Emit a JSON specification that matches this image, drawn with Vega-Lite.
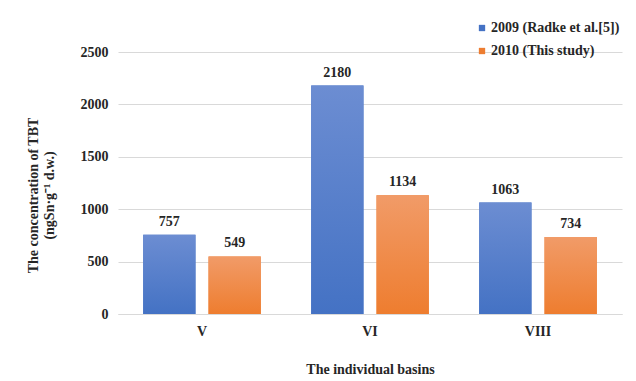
{
  "$schema": "https://vega.github.io/schema/vega-lite/v6.json",
  "width": 504,
  "height": 262,
  "autosize": {"type": "none"},
  "padding": {"left": 118, "top": 52, "right": 14, "bottom": 67},
  "background": "white",
  "config": {"view": {"stroke": null}, "font": "Liberation Serif"},
  "data": {
    "values": [
      {"basin": "V", "series": "2009 (Radke et al.[5])", "year": 2009, "value": 757},
      {"basin": "V", "series": "2010 (This study)", "year": 2010, "value": 549},
      {"basin": "VI", "series": "2009 (Radke et al.[5])", "year": 2009, "value": 2180},
      {"basin": "VI", "series": "2010 (This study)", "year": 2010, "value": 1134},
      {"basin": "VIII", "series": "2009 (Radke et al.[5])", "year": 2009, "value": 1063},
      {"basin": "VIII", "series": "2010 (This study)", "year": 2010, "value": 734}
    ]
  },
  "encoding": {
    "x": {
      "field": "basin", "type": "nominal", "sort": ["V", "VI", "VIII"],
      "scale": {"paddingInner": 0.3, "paddingOuter": 0.15},
      "axis": {
        "title": "The individual basins", "labelAngle": 0, "ticks": false,
        "domainColor": "#d9d9d9", "labelPadding": 10, "labelFontSize": 14,
        "labelFontWeight": "bold", "labelColor": "#262626",
        "titleFontSize": 14, "titleFontWeight": "bold", "titleColor": "#262626",
        "titlePadding": 24
      }
    },
    "xOffset": {"field": "series", "type": "nominal", "scale": {"paddingInner": 0.2}},
    "y": {
      "field": "value", "type": "quantitative",
      "scale": {"domain": [0, 2500]},
      "axis": {
        "title": ["The concentration of TBT", "(ngSn·g⁻¹ d.w.)"],
        "values": [0, 500, 1000, 1500, 2000, 2500], "format": "d",
        "domain": false, "ticks": false, "gridColor": "#d9d9d9",
        "labelPadding": 10, "labelFontSize": 14, "labelFontWeight": "bold",
        "labelColor": "#262626",
        "titleFontSize": 14, "titleFontWeight": "bold", "titleColor": "#262626",
        "titleLineHeight": 16, "titlePadding": 24, "titleY": 143
      }
    }
  },
  "layer": [
    {
      "mark": {"type": "bar"},
      "encoding": {
        "color": {
          "field": "series", "type": "nominal",
          "scale": {"range": ["#4472c4", "#ed7d31"]},
          "legend": {
            "title": null, "orient": "none", "legendX": 357, "legendY": -31,
            "symbolType": "square", "symbolSize": 40, "labelFontSize": 14,
            "labelFontWeight": "bold", "labelColor": "#262626", "labelLimit": 300,
            "rowPadding": 9, "labelOffset": 2
          }
        }
      }
    },
    {
      "transform": [{"filter": "datum.year == 2009"}],
      "mark": {
        "type": "bar",
        "fill": {
          "gradient": "linear", "x1": 0, "y1": 0, "x2": 0, "y2": 1,
          "stops": [{"offset": 0, "color": "#6c8dd2"}, {"offset": 1, "color": "#4472c4"}]
        }
      }
    },
    {
      "transform": [{"filter": "datum.year == 2010"}],
      "mark": {
        "type": "bar",
        "fill": {
          "gradient": "linear", "x1": 0, "y1": 0, "x2": 0, "y2": 1,
          "stops": [{"offset": 0, "color": "#f19b68"}, {"offset": 1, "color": "#ee7d2f"}]
        }
      }
    },
    {
      "mark": {"type": "text", "baseline": "bottom", "dy": -6, "fontWeight": "bold", "fontSize": 14, "color": "#262626"},
      "encoding": {"text": {"field": "value", "type": "quantitative"}}
    }
  ]
}
